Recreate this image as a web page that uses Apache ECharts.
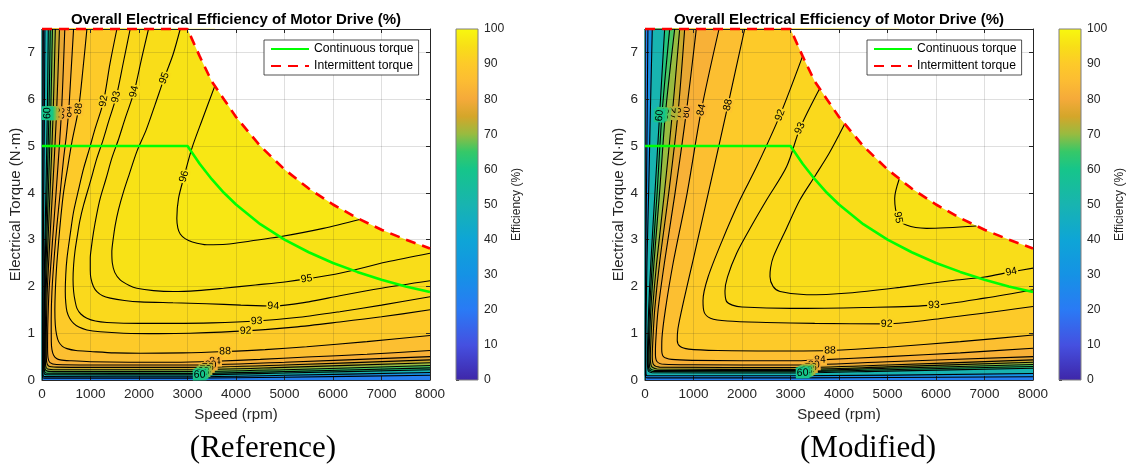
<!DOCTYPE html>
<html><head><meta charset="utf-8">
<script src="https://cdn.jsdelivr.net/npm/echarts@6/dist/echarts.min.js"></script>
<style>html,body{margin:0;padding:0;background:#fff;}#c{width:1129px;height:465px;}</style>
</head><body><div id="c"></div>
<script>
// ---------------- DATA ----------------
const speedTicks = [0,1000,2000,3000,4000,5000,6000,7000,8000];
const torqueTicks = [0,1,2,3,4,5,6,7];
const effTicks = [0,10,20,30,40,50,60,70,80,90,100];

const contSpeed  = [0,3000,3250,3500,3750,4000,4500,5000,5500,6000,6500,7000,7500,8000];
const contTorque = [5,5,4.62,4.29,4.0,3.75,3.33,3.0,2.73,2.5,2.31,2.14,2.0,1.88];
const intSpeed   = [0,3000,3250,3500,3750,4000,4500,5000,5500,6000,6500,7000,7500,8000];
const intTorque  = [7.5,7.5,6.92,6.38,6.0,5.62,5.0,4.5,4.09,3.75,3.46,3.21,3.0,2.81];

// Reference contours [speed, torque]
const ref96 = [[3570,6.3],[3300,5.55],[3090,4.95],[2930,4.35],[2815,3.88],[2780,3.45],[2800,3.25],[2850,3.12],[2950,3.02],[3100,2.95],[3400,2.89],[3800,2.9],[4300,2.97],[4900,3.06],[5800,3.24],[6550,3.43]];
const ref95 = [[2850,7.5],[2700,6.95],[2520,6.45],[2330,5.88],[2150,5.35],[1955,4.88],[1800,4.4],[1680,4.02],[1580,3.65],[1510,3.31],[1460,2.95],[1440,2.74],[1450,2.5],[1500,2.3],[1612,2.14],[1800,2.02],[1955,1.96],[2300,1.91],[2710,1.89],[3200,1.91],[3740,1.96],[4400,2.03],[5043,2.1],[5454,2.16],[6140,2.28],[7100,2.52],[8000,2.71]];
const ref94 = [[2196,7.5],[2050,6.85],[1900,6.16],[1715,5.59],[1580,5.15],[1440,4.74],[1320,4.3],[1200,3.88],[1130,3.55],[1064,3.17],[1020,2.85],[995,2.6],[995,2.35],[1009,2.17],[1060,2.0],[1132,1.89],[1250,1.8],[1406,1.75],[1700,1.7],[2024,1.67],[2700,1.65],[3396,1.63],[4100,1.6],[4768,1.58],[5500,1.67],[6140,1.8],[7000,1.96],[8000,2.12]];
const ref93 = [[1818,7.5],[1680,6.8],[1530,6.05],[1372,5.52],[1250,5.1],[1132,4.74],[1000,4.25],[858,3.74],[780,3.4],[721,3.03],[680,2.75],[652,2.46],[640,2.15],[652,1.89],[680,1.7],[721,1.53],[800,1.41],[926,1.32],[1100,1.26],[1338,1.23],[2000,1.21],[2710,1.21],[3500,1.22],[4425,1.26],[5300,1.34],[6140,1.46],[7000,1.6],[8000,1.78]];
const ref92 = [[1544,7.5],[1400,6.75],[1270,5.96],[1098,5.38],[980,4.95],[858,4.52],[750,4.05],[652,3.6],[580,3.1],[515,2.6],[490,2.25],[480,1.89],[490,1.65],[515,1.46],[570,1.32],[652,1.21],[760,1.13],[926,1.07],[1200,1.03],[1680,1.0],[2400,0.99],[3053,1.0],[4199,1.05],[5200,1.13],[6140,1.24],[7000,1.35],[8000,1.5]];
const ref88 = [[926,7.5],[850,6.7],[754,5.8],[617,5.09],[530,4.55],[446,4.02],[390,3.5],[343,2.96],[300,2.4],[274,1.89],[265,1.5],[274,1.18],[300,0.97],[343,0.82],[420,0.72],[515,0.67],[700,0.63],[995,0.61],[1500,0.58],[2024,0.57],[2900,0.58],[3774,0.61],[4600,0.65],[5455,0.71],[6700,0.82],[8000,0.95]];
const ref84 = [[651,7.5],[600,6.6],[549,5.73],[500,5.2],[446,4.74],[380,4.05],[308,3.31],[250,2.6],[205,1.89],[190,1.3],[192,0.82],[205,0.65],[240,0.53],[300,0.46],[377,0.43],[600,0.41],[995,0.39],[1800,0.38],[2710,0.38],[3568,0.4],[4500,0.44],[5455,0.49],[6700,0.55],[8000,0.63]];
const ref80 = [[470,7.5],[400,5.7],[290,4.0],[150,2.0],[120,1.2],[115,0.7],[125,0.47],[165,0.37],[300,0.33],[1000,0.32],[3000,0.32],[5000,0.38],[8000,0.5]];
const ref76 = [[360,7.5],[300,5.7],[215,4.0],[112,2.0],[92,1.2],[88,0.6],[97,0.38],[135,0.3],[300,0.275],[1000,0.27],[3000,0.27],[5000,0.32],[8000,0.43]];
const ref72 = [[275,7.5],[230,5.7],[165,4.0],[88,2.0],[72,1.2],[68,0.5],[76,0.3],[115,0.235],[300,0.22],[3000,0.22],[5000,0.27],[8000,0.37]];
const ref68 = [[215,7.5],[180,5.7],[130,4.0],[70,2.0],[57,1.0],[54,0.4],[65,0.23],[110,0.19],[300,0.18],[3000,0.18],[5000,0.22],[8000,0.31]];
const ref64 = [[170,7.5],[143,5.7],[102,4.0],[55,2.0],[45,1.0],[43,0.32],[55,0.18],[100,0.145],[3000,0.14],[5000,0.18],[8000,0.26]];
const ref60 = [[130,7.5],[110,5.7],[80,4.0],[43,2.0],[35,1.0],[33,0.27],[45,0.14],[90,0.112],[3000,0.11],[5000,0.15],[8000,0.22]];
const ref40 = [[60,7.5],[50,5.7],[36,4.0],[22,2.0],[18,1.0],[17,0.18],[28,0.085],[70,0.072],[3000,0.07],[5000,0.1],[8000,0.16]];
const ref20 = [[28,7.5],[23,5.7],[17,4.0],[11,2.0],[9,1.0],[9,0.1],[18,0.045],[50,0.04],[3000,0.04],[5000,0.06],[8000,0.1]];
const refLabels = [[96,2930,4.35],[95,2520,6.45],[95,5454,2.16],[94,1900,6.16],[94,4768,1.58],[93,1530,6.05],[93,4425,1.26],[92,1270,5.96],[92,4199,1.05],[88,754,5.8],[88,3774,0.61],[84,549,5.73],[84,3568,0.4],
  [80,400,5.7],[76,300,5.7],[72,230,5.7],[68,180,5.7],[64,143,5.7],[60,110,5.7],
  [80,3480,0.32],[76,3420,0.27],[72,3370,0.22],[68,3330,0.18],[64,3290,0.14],[60,3250,0.11]];

// Modified contours [speed, torque]
const mod95 = [[5240,4.29],[5148,3.88],[5217,3.47],[5388,3.31],[5801,3.24],[6832,3.29]];
const mod94 = [[4117,5.47],[3800,4.85],[3500,4.35],[3196,3.85],[2900,3.2],[2646,2.63],[2590,2.4],[2577,2.21],[2640,2.0],[2784,1.89],[3333,1.82],[4200,1.86],[5258,1.98],[6300,2.12],[7000,2.2],[7553,2.31],[8000,2.39]];
const mod93 = [[3608,6.24],[3196,5.38],[2921,4.56],[2509,3.85],[2200,3.3],[1890,2.71],[1700,2.2],[1649,1.9],[1680,1.68],[1800,1.6],[2000,1.56],[3000,1.53],[4500,1.55],[5959,1.6],[7000,1.75],[8000,1.93]];
const mod92 = [[3250,6.92],[2784,5.66],[2303,4.56],[1959,3.85],[1600,3.0],[1300,2.2],[1196,1.7],[1220,1.45],[1350,1.32],[1700,1.26],[2500,1.23],[3500,1.21],[4983,1.2],[6144,1.32],[8000,1.57]];
const mod88 = [[2055,7.5],[1711,5.88],[1350,4.2],[1000,2.6],[800,1.7],[680,1.1],[665,0.85],[720,0.72],[900,0.66],[1500,0.63],[3000,0.62],[3814,0.63],[5000,0.7],[6500,0.82],[8000,0.96]];
const mod84 = [[1526,7.5],[1162,5.77],[870,4.0],[580,2.5],[420,1.5],[350,0.9],[345,0.65],[380,0.5],[550,0.44],[1000,0.42],[3000,0.41],[3608,0.43],[5000,0.5],[6500,0.58],[8000,0.68]];
const mod80 = [[1058,7.5],[852,5.72],[620,4.0],[400,2.5],[270,1.5],[220,0.8],[215,0.55],[250,0.39],[400,0.335],[1000,0.325],[3000,0.32],[5000,0.39],[8000,0.5]];
const mod76 = [[818,7.5],[680,5.7],[490,4.0],[300,2.5],[200,1.5],[160,0.8],[150,0.5],[175,0.33],[300,0.275],[3000,0.265],[5000,0.32],[8000,0.43]];
const mod72 = [[715,7.5],[564,5.7],[400,4.0],[240,2.5],[155,1.5],[120,0.8],[110,0.5],[130,0.3],[250,0.235],[3000,0.225],[5000,0.28],[8000,0.38]];
const mod68 = [[612,7.5],[420,5.68],[300,4.0],[185,2.5],[120,1.5],[92,0.8],[85,0.5],[100,0.26],[200,0.205],[3000,0.2],[5000,0.25],[8000,0.33]];
const mod64 = [[509,7.5],[350,5.68],[250,4.0],[150,2.5],[95,1.5],[72,0.8],[66,0.45],[80,0.23],[180,0.18],[3000,0.175],[5000,0.22],[8000,0.29]];
const mod60 = [[405,7.5],[300,5.65],[205,4.0],[120,2.5],[75,1.5],[55,0.8],[50,0.4],[65,0.2],[150,0.155],[3000,0.15],[5000,0.19],[8000,0.25]];
const mod40 = [[150,7.5],[110,5.7],[75,4.0],[40,2.5],[25,1.5],[18,0.8],[17,0.2],[30,0.1],[80,0.09],[3000,0.09],[8000,0.14]];
const mod20 = [[60,7.5],[45,5.7],[30,4.0],[16,2.5],[10,1.5],[8,0.8],[8,0.12],[20,0.05],[60,0.045],[3000,0.045],[8000,0.07]];
const modLabels = [[95,5217,3.47],[94,7553,2.31],[93,3196,5.38],[93,5959,1.6],[92,2784,5.66],[92,4983,1.2],[88,1711,5.88],[88,3814,0.63],[84,1162,5.77],[84,3608,0.43],
  [80,852,5.72],[76,680,5.7],[72,564,5.7],[68,420,5.68],[64,350,5.68],[60,300,5.65],
  [80,3480,0.32],[76,3420,0.265],[72,3370,0.225],[68,3330,0.2],[64,3290,0.175],[60,3250,0.15]];

const refContours = [[96,ref96],[95,ref95],[94,ref94],[93,ref93],[92,ref92],[88,ref88],[84,ref84],[80,ref80],[76,ref76],[72,ref72],[68,ref68],[64,ref64],[60,ref60],[40,ref40],[20,ref20]];
const modContours = [[95,mod95],[94,mod94],[93,mod93],[92,mod92],[88,mod88],[84,mod84],[80,mod80],[76,mod76],[72,mod72],[68,mod68],[64,mod64],[60,mod60],[40,mod40],[20,mod20]];

// ---------------- STYLE ----------------
const cmapVals = [0,10,20,30,40,50,60,65,70,75,80,85,90,95,100];
const cmapCols = ['#3e26a8','#4550e0','#2a7af5','#1592e5','#0ea5d6','#18b4b0','#16c58a','#36c868','#98bb40','#d4a62a','#f5aa3a','#fcbc33','#fdca29','#f8df17','#f8f80e'];
const FONT = '"Liberation Sans", Arial, Helvetica, sans-serif';
const SERIF = '"Liberation Serif", "Times New Roman", serif';
const XMAX = 8000, YMAX = 7.5;

function hex2rgb(h){return [parseInt(h.substr(1,2),16),parseInt(h.substr(3,2),16),parseInt(h.substr(5,2),16)];}
function cmap(v){
  if (v <= cmapVals[0]) return cmapCols[0];
  for (let i=1;i<cmapVals.length;i++){
    if (v <= cmapVals[i]){
      const t=(v-cmapVals[i-1])/(cmapVals[i]-cmapVals[i-1]);
      const a=hex2rgb(cmapCols[i-1]), b=hex2rgb(cmapCols[i]);
      return 'rgb('+a.map((x,k)=>Math.round(x+(b[k]-x)*t)).join(',')+')';
    }
  }
  return cmapCols[cmapCols.length-1];
}
const zip = (a,b)=>a.map((x,i)=>[x,b[i]]);

function bandRender(contours, topVal){
  return function(params, api){
    const ch=[];
    const tl=api.coord([0,YMAX]), br=api.coord([XMAX,0]);
    ch.push({type:'rect',shape:{x:tl[0],y:tl[1],width:br[0]-tl[0],height:br[1]-tl[1]},style:{fill:cmap(topVal)}});
    contours.forEach(([lev,pts],i)=>{
      const last_ = i+1>=contours.length;
      const col = cmap(last_ ? lev*1.1 : (lev+contours[i+1][0])/2 + (lev<=40 ? 0 : 0));
      const first=pts[0], last=pts[pts.length-1];
      const poly=pts.map(p=>api.coord(p));
      poly.push(api.coord([XMAX,last[1]]),api.coord([XMAX,0]),api.coord([0,0]),api.coord([0,YMAX]),api.coord([first[0],YMAX]));
      ch.push({type:'polygon',shape:{points:poly},style:{fill:col,stroke:col,lineWidth:0.5}});
    });
    return {type:'group',children:ch};
  };
}
function maskRender(params, api){
  const pts=[];
  intSpeed.forEach((s,i)=>{ if (s>=3000) pts.push(api.coord([s,intTorque[i]])); });
  pts.push(api.coord([XMAX,YMAX]));
  return {type:'polygon',shape:{points:pts},style:{fill:'#ffffff'}};
}
function segDist(p,a,b){
  const dx=b[0]-a[0], dy=b[1]-a[1]; const L=dx*dx+dy*dy;
  let t = L? ((p[0]-a[0])*dx+(p[1]-a[1])*dy)/L : 0; t=Math.max(0,Math.min(1,t));
  const x=a[0]+t*dx-p[0], y=a[1]+t*dy-p[1]; return x*x+y*y;
}
function labelRender(contours, labels){
  return function(params, api){
    const ch=[];
    labels.forEach(([lev,sx,sy])=>{
      const pts=contours.find(c=>c[0]===lev)[1];
      const p=api.coord([sx,sy]);
      let best=Infinity, ang=0;
      for(let i=0;i<pts.length-1;i++){
        const a=api.coord(pts[i]), b=api.coord(pts[i+1]);
        const d=segDist(p,a,b);
        if(d<best){best=d; ang=Math.atan2(-(b[1]-a[1]), b[0]-a[0]);}
      }
      if(ang>Math.PI/2) ang-=Math.PI; if(ang<=-Math.PI/2) ang+=Math.PI;
      ch.push({type:'text',x:p[0],y:p[1],rotation:ang,style:{text:String(lev),x:0,y:0,align:'center',verticalAlign:'middle',font:'10.5px '+FONT,fill:'#000',backgroundColor:cmap(lev),padding:[0,1]}});
    });
    return {type:'group',children:ch};
  };
}
function cbarRender(params, api){
  const tl=api.coord([0,100]), br=api.coord([1,0]);
  const stops=cmapVals.map((v,i)=>({offset:1-v/100,color:cmapCols[i]})).reverse();
  return {type:'rect',shape:{x:tl[0],y:tl[1],width:br[0]-tl[0],height:br[1]-tl[1]},
    style:{fill:{type:'linear',x:0,y:0,x2:0,y2:1,colorStops:stops},stroke:'#808080',lineWidth:1}};
}

function mainX(gi,pos,main){
  return {type:'value',gridIndex:gi,position:pos,min:0,max:XMAX,interval:1000,z:3,
    name:main?'Speed (rpm)':'',nameLocation:'middle',nameGap:27,
    nameTextStyle:{fontFamily:FONT,fontSize:15,color:'#262626'},
    axisLine:{show:true,onZero:false,lineStyle:{color:'#262626',width:1}},
    axisTick:{show:true,inside:true,length:4,lineStyle:{color:'#262626'}},
    axisLabel:{show:main,fontFamily:FONT,fontSize:13.5,color:'#262626',margin:7,formatter:v=>String(v)},
    splitLine:{show:main,lineStyle:{color:'rgba(38,38,38,0.15)',width:1}}};
}
function mainY(gi,pos,main){
  return {type:'value',gridIndex:gi,position:pos,min:0,max:YMAX,interval:1,z:3,
    name:main?'Electrical Torque (N·m)':'',nameLocation:'middle',nameGap:19,
    nameTextStyle:{fontFamily:FONT,fontSize:15,color:'#262626'},
    axisLine:{show:true,onZero:false,lineStyle:{color:'#262626',width:1}},
    axisTick:{show:true,inside:true,length:4,lineStyle:{color:'#262626'}},
    axisLabel:{show:main,showMaxLabel:false,fontFamily:FONT,fontSize:13.5,color:'#262626',margin:7,formatter:v=>(v%1===0?String(v):'')},
    splitLine:{show:main,lineStyle:{color:'rgba(38,38,38,0.15)',width:1}}};
}
function cbX(gi){return {type:'value',gridIndex:gi,min:0,max:1,show:false};}
function cbY(gi){
  return {type:'value',gridIndex:gi,position:'right',min:0,max:100,interval:10,
    name:'Efficiency (%)',nameLocation:'middle',nameGap:33,
    nameTextStyle:{fontFamily:FONT,fontSize:12,color:'#262626'},
    axisLine:{show:false},axisTick:{show:true,inside:false,length:3,lineStyle:{color:'#262626'}},
    axisLabel:{fontFamily:FONT,fontSize:12.2,color:'#262626',margin:6},splitLine:{show:false}};
}

function panelSeries(xi, contours, labels, topVal){
  const s=[];
  s.push({type:'custom',xAxisIndex:xi,yAxisIndex:xi,z:1,silent:true,data:[[0,0]],renderItem:bandRender(contours,topVal)});
  s.push({type:'custom',xAxisIndex:xi,yAxisIndex:xi,z:2,silent:true,data:[[0,0]],renderItem:maskRender});
  contours.forEach(([lev,pts])=>{
    s.push({type:'line',xAxisIndex:xi,yAxisIndex:xi,z:4,silent:true,data:pts,symbol:'none',smooth:0.3,
      lineStyle:{color:'#000',width:1.1}});
  });
  s.push({type:'custom',xAxisIndex:xi,yAxisIndex:xi,z:5,silent:true,data:[[0,0]],renderItem:labelRender(contours,labels)});
  s.push({type:'line',name:'Continuous torque',xAxisIndex:xi,yAxisIndex:xi,z:6,silent:true,data:zip(contSpeed,contTorque),symbol:'none',
    lineStyle:{color:'#00ff00',width:2.6},itemStyle:{color:'#00ff00'}});
  s.push({type:'line',name:'Intermittent torque',xAxisIndex:xi,yAxisIndex:xi,z:6,silent:true,clip:false,data:zip(intSpeed,intTorque),symbol:'none',
    lineStyle:{color:'#ff0000',width:2.6,type:[10,7]},itemStyle:{color:'#ff0000'}});
  return s;
}

function legendAt(left){
  return {left:left,top:40,orient:'vertical',selectedMode:false,z:20,
    data:['Continuous torque','Intermittent torque'],
    itemWidth:38,itemHeight:12,itemGap:5,padding:[3,5,3,6],
    itemStyle:{opacity:0},
    backgroundColor:'#ffffff',borderColor:'#262626',borderWidth:0.8,borderRadius:0,
    textStyle:{fontFamily:FONT,fontSize:12.2,color:'#000'}};
}

const chart = echarts.init(document.getElementById('c'));
const series = [].concat(
  panelSeries(0, refContours, refLabels, 96.6),
  panelSeries(2, modContours, modLabels, 95.4),
  [{type:'custom',xAxisIndex:4,yAxisIndex:4,silent:true,data:[[0,0]],renderItem:cbarRender},
   {type:'custom',xAxisIndex:5,yAxisIndex:5,silent:true,data:[[0,0]],renderItem:cbarRender}]
);
chart.setOption({
  animation:false,
  grid:[{left:42,top:29,width:388,height:351},{left:645,top:29,width:388,height:351},
        {left:456,top:29,width:22,height:351},{left:1059,top:29,width:22,height:351}],
  xAxis:[mainX(0,'bottom',true),mainX(0,'top',false),mainX(1,'bottom',true),mainX(1,'top',false),cbX(2),cbX(3)],
  yAxis:[mainY(0,'left',true),mainY(0,'right',false),mainY(1,'left',true),mainY(1,'right',false),cbY(2),cbY(3)],
  legend:[legendAt(264),legendAt(867)],
  graphic:[
    {type:'text',x:236,y:20,style:{text:'Overall Electrical Efficiency of Motor Drive (%)',align:'center',verticalAlign:'middle',font:'bold 15px '+FONT,fill:'#000'}},
    {type:'text',x:839,y:20,style:{text:'Overall Electrical Efficiency of Motor Drive (%)',align:'center',verticalAlign:'middle',font:'bold 15px '+FONT,fill:'#000'}},
    {type:'text',x:263,y:449,style:{text:'(Reference)',align:'center',verticalAlign:'middle',font:'31px '+SERIF,fill:'#000'}},
    {type:'text',x:868,y:449,style:{text:'(Modified)',align:'center',verticalAlign:'middle',font:'31px '+SERIF,fill:'#000'}}
  ],
  series:series
});
</script></body></html>
